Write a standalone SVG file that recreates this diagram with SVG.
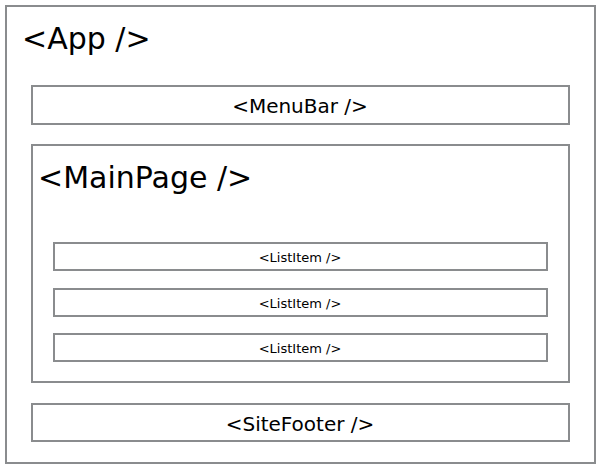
<svg xmlns="http://www.w3.org/2000/svg" width="602" height="469" viewBox="0 0 602 469">
<style>
.box{fill:#fff;stroke:#8a8c8e;stroke-width:2}
text{font-family:"DejaVu Sans","Noto Sans",sans-serif;fill:#000}
.big{font-size:30px}
.mid{font-size:20px;text-anchor:middle}
.sm{font-size:13px;text-anchor:middle}
</style>
<rect width="602" height="469" fill="#fff"/>
<g id="app">
<rect class="box" x="6" y="6" width="589" height="457"/>
<text class="big" x="22" y="49">&lt;App /&gt;</text>
</g>
<g id="menubar">
<rect class="box" x="32" y="86" width="537" height="38"/>
<text class="mid" x="300" y="113">&lt;MenuBar /&gt;</text>
</g>
<g id="mainpage">
<rect class="box" x="32" y="145" width="537" height="237"/>
<text class="big" x="38" y="188">&lt;MainPage /&gt;</text>
</g>
<g id="listitem1">
<rect class="box" x="54" y="243" width="493" height="27"/>
<text class="sm" x="300" y="262">&lt;ListItem /&gt;</text>
</g>
<g id="listitem2">
<rect class="box" x="54" y="289" width="493" height="27"/>
<text class="sm" x="300" y="308">&lt;ListItem /&gt;</text>
</g>
<g id="listitem3">
<rect class="box" x="54" y="334" width="493" height="27"/>
<text class="sm" x="300" y="353">&lt;ListItem /&gt;</text>
</g>
<g id="sitefooter">
<rect class="box" x="32" y="404" width="537" height="37"/>
<text class="mid" x="300" y="431">&lt;SiteFooter /&gt;</text>
</g>
<g id="connectors"></g>
</svg>
